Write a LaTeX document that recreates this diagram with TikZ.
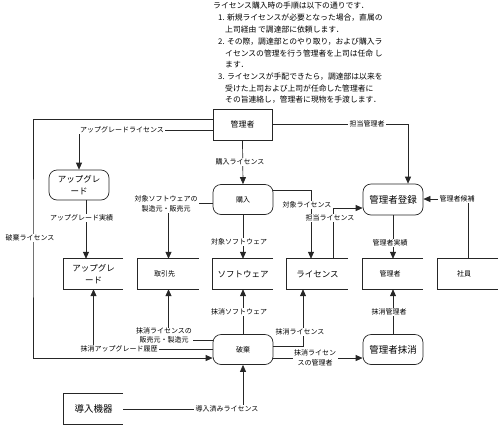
\documentclass[tikz,border=0pt]{standalone}
\usepackage{fontspec}
\setmainfont{Noto Sans CJK JP}
\usetikzlibrary{arrows.meta}
\begin{document}
\begin{tikzpicture}[x=1pt,y=-1pt,
  ln/.style={draw=black!85,line width=0.7pt},
  arr/.style={ln,-{Triangle[length=7pt,width=6pt]}},
  proc/.style={draw=black!85,line width=0.7pt,rounded corners=8pt,minimum width=60pt,minimum height=30pt,inner sep=1pt,align=center},
  box/.style={draw=black!85,line width=0.7pt,minimum width=59pt,minimum height=31pt,inner sep=1pt},
  store/.style={minimum width=60pt,minimum height=30pt,inner sep=1pt,align=center},
  lbl/.style={fill=white,inner xsep=1.5pt,inner ysep=0.3pt,font=\fontsize{7}{10}\selectfont,align=center},
  sm/.style={font=\fontsize{7}{8}\selectfont},
  lg/.style={font=\fontsize{9.5}{11}\selectfont},
  md/.style={font=\fontsize{8.5}{12.5}\selectfont},
  note/.style={anchor=west,inner sep=0pt,font=\fontsize{7.8}{9}\selectfont}
]
\useasboundingbox (0,0) rectangle (500,426);

% note text
\node[note] (t1) at (213,6) {ライセンス購入時の手順は以下の通りです．};
\node[note] (t2) at (218,18) {1. 新規ライセンスが必要となった場合，直属の};
\node[note] (t3) at (225,30) {上司経由 で調達部に依頼します．};
\node[note] (t4) at (218,42) {2. その際，調達部とのやり取り，および購入ラ};
\node[note] (t5) at (225,53.5) {イセンスの管理を行う管理者を上司は任命 し};
\node[note] (t6) at (225,64.5) {ます．};
\node[note] (t7) at (218,77) {3. ライセンスが手配できたら，調達部は以来を};
\node[note] (t8) at (225,88.5) {受けた上司および上司が任命した管理者に};
\node[note] (t9) at (225,100) {その旨連絡し，管理者に現物を手渡します．};

% processes and entity
\node[box,font=\fontsize{8}{9}\selectfont] (kanri) at (242.5,124.5) {管理者};
\node[proc,md] (upg) at (79,185) {アップグレ\\ード};
\node[proc,sm] (kounyu) at (243,199.5) {購入};
\node[proc,lg,minimum height=31pt] (toroku) at (393,199.5) {管理者登録};
\node[proc,sm] (haki) at (243,349.5) {破棄};
\node[proc,lg] (massho) at (393,349.5) {管理者抹消};

% stores
\node[store,md,minimum width=59pt] (upstore) at (93.5,274) {アップグレ\\ード};
\node[store,sm,minimum width=61pt] (torihiki) at (168.5,274) {\hspace*{-8pt}取引先};
\node[store,md] (soft) at (243,274) {ソフトウェア};
\node[store,md,minimum width=61pt] (lic) at (317.5,274) {ライセンス};
\node[store,sm] (kstore) at (393,274) {\hspace*{-6pt}管理者};
\node[store,sm] (shain) at (468,274) {\hspace*{-8pt}社員};
\node[store,lg,minimum width=59pt] (dounyu) at (93.5,409) {導入機器};
\foreach \s in {upstore,torihiki,soft,lic,kstore,shain,dounyu}
  \draw[ln] (\s.north east) -- (\s.north west) -- (\s.south west) -- (\s.south east);

% connectors
\draw[arr] (kanri.west |- 0,130) -| (upg.north);
\draw[arr] (kanri.west |- 0,119) -| (33,238) |- (haki.west |- 0,358);
\draw[arr] (kanri.south) -- (kounyu.north);
\draw[arr] (kanri.east) -| (toroku.north -| 408,0);
\draw[arr] (shain.north) |- (toroku.east |- 0,199);
\draw[arr] (toroku.south) -- (kstore.north);
\draw[arr] (massho.north) -- (kstore.south);
\draw[arr] (kounyu.west |- 0,203) -| (torihiki.north);
\draw[arr] (kounyu.south) -- (soft.north);
\draw[arr] (kounyu.east |- 0,190) -| (lic.north -| 311,0);
\draw[arr] (lic.north -| 333,0) |- (toroku.west |- 0,208);
\draw[arr] (upg.south -| 86,0) -- (upstore.north -| 86,0);
\draw[arr] (haki.west |- 0,349) -| (upstore.south);
\draw[arr] (haki.west |- 0,340) -| (torihiki.south);
\draw[arr] (haki.north) -- (soft.south);
\draw[arr] (haki.east |- 0,346) -| (lic.south -| 303,0);
\draw[arr] (haki.east |- 0,358) -- (massho.west |- 0,358);
\draw[arr] (dounyu.east) -| (haki.south);

% labels
\node[lbl] (l1) at (122,130) {アップグレードライセンス};
\node[lbl] (l2) at (240,162) {購入ライセンス};
\node[lbl] (l3) at (367,124) {担当管理者};
\node[lbl] (l4) at (30,238) {破棄ライセンス};
\node[lbl] (l5) at (81.5,218) {アップグレード実績};
\node[lbl] (l6) at (166,204) {対象ソフトウェアの\\製造元・販売元};
\node[lbl] (l7) at (239,242) {対象ソフトウェア};
\node[lbl] (l8) at (307,205) {対象ライセンス};
\node[lbl] (l9) at (330,218) {担当ライセンス};
\node[lbl] (l10) at (457,199) {管理者候補};
\node[lbl] (l11) at (390,243) {管理者実績};
\node[lbl] (l12) at (389,312) {抹消管理者};
\node[lbl] (l13) at (239,312) {抹消ソフトウェア};
\node[lbl] (l14) at (300,332) {抹消ライセンス};
\node[lbl] (l16) at (119,349) {抹消アップグレード履歴};
\node[lbl,font=\fontsize{7}{8.5}\selectfont] (l15) at (164,335.5) {抹消ライセンスの\\販売元・製造元};
\node[lbl] (l17) at (315,358) {抹消ライセン\\スの管理者};
\node[lbl] (l18) at (227,409) {導入済みライセンス};
\end{tikzpicture}
\end{document}
